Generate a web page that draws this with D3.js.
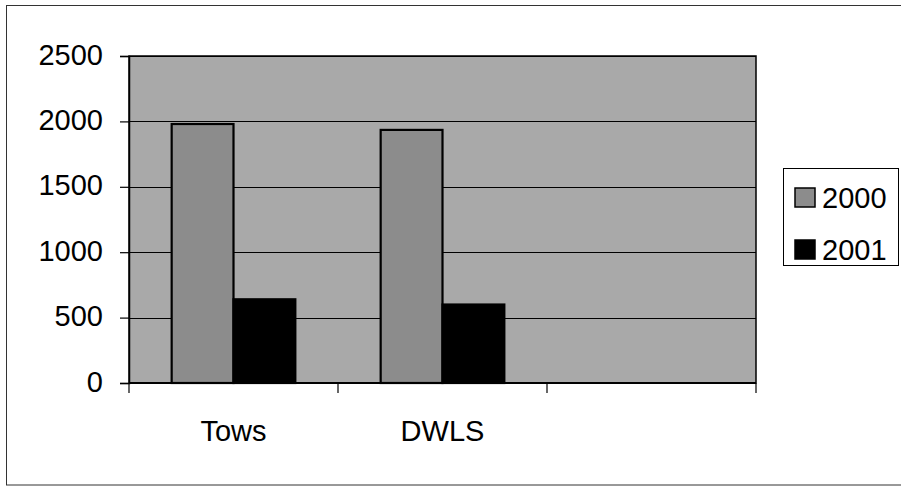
<!DOCTYPE html>
<html>
<head>
<meta charset="utf-8">
<script src="https://cdn.jsdelivr.net/npm/d3@7"></script>
<style>
  html, body { margin: 0; padding: 0; background: #fff; }
  svg { display: block; }
  text { font-family: "Liberation Sans", Arial, sans-serif; fill: #000; }
</style>
</head>
<body>
<svg id="chart" width="901" height="487"></svg>
<script>
// Chart data
const categories = ["Tows", "DWLS", ""];
const seriesNames = ["2000", "2001"];
const values2000 = [1980, 1935, null];
const values2001 = [640, 600, null];
const yTicks = [0, 500, 1000, 1500, 2000, 2500];

const seriesValues = { "2000": values2000, "2001": values2001 };
const seriesFill = { "2000": "#8c8c8c", "2001": "#000000" };

const svg = d3.select("#chart");

// Outer chart frame
svg.append("rect")
  .attr("x", 6.5).attr("y", 5.5)
  .attr("width", 900).attr("height", 479.5)
  .attr("fill", "#fff").attr("stroke", "#333").attr("stroke-width", 1);

const plot = { left: 129, right: 756, top: 56, bottom: 383 };

const y = d3.scaleLinear().domain([0, 2500]).range([plot.bottom, plot.top]);
const x0 = d3.scaleBand().domain(categories).range([plot.left, plot.right]).padding(0);
const x1 = d3.scaleBand().domain(seriesNames).range([0, x0.bandwidth()])
  .paddingInner(0).paddingOuter(0.69);

// Plot area background
svg.append("rect")
  .attr("x", plot.left).attr("y", plot.top)
  .attr("width", plot.right - plot.left).attr("height", plot.bottom - plot.top)
  .attr("fill", "#a9a9a9");

// Horizontal gridlines
svg.append("g").selectAll("line")
  .data(yTicks.filter(t => t > 0))
  .join("line")
  .attr("x1", plot.left).attr("x2", plot.right)
  .attr("y1", d => Math.round(y(d)) + 0.5).attr("y2", d => Math.round(y(d)) + 0.5)
  .attr("stroke", "#000").attr("stroke-width", 1.2);

// Plot area border
svg.append("rect")
  .attr("x", plot.left).attr("y", plot.top)
  .attr("width", plot.right - plot.left).attr("height", plot.bottom - plot.top)
  .attr("fill", "none").attr("stroke", "#000").attr("stroke-width", 1.5);

// Bars
const groups = svg.append("g").selectAll("g")
  .data(categories)
  .join("g")
  .attr("transform", c => `translate(${x0(c)},0)`);

groups.selectAll("rect")
  .data((c, i) => seriesNames
    .map(s => ({ s, v: seriesValues[s][i] }))
    .filter(d => d.v != null))
  .join("rect")
  .attr("x", d => x1(d.s))
  .attr("y", d => y(d.v))
  .attr("width", x1.bandwidth())
  .attr("height", d => y(0) - y(d.v))
  .attr("fill", d => seriesFill[d.s])
  .attr("stroke", "#000")
  .attr("stroke-width", 2.2);

// Y axis
const yAxis = d3.axisLeft(y).tickValues(yTicks).tickSize(9).tickPadding(17).tickFormat(d3.format("d"));
const gy = svg.append("g").attr("transform", `translate(${plot.left},0)`).call(yAxis);
gy.select(".domain").attr("stroke", "#000").attr("stroke-width", 1.5);
gy.selectAll(".tick line").attr("stroke", "#000").attr("stroke-width", 1.2);
gy.selectAll(".tick text")
  .attr("font-size", 29).attr("font-family", "Liberation Sans, Arial, sans-serif")
  .attr("fill", "#000").attr("dy", "0.28em");

// X axis
const xTickPos = categories.map(c => x0(c)).concat([plot.right]);
const gx = svg.append("g");
gx.append("line")
  .attr("x1", plot.left).attr("x2", plot.right)
  .attr("y1", plot.bottom).attr("y2", plot.bottom)
  .attr("stroke", "#000").attr("stroke-width", 2);
gx.selectAll("line.tick")
  .data(xTickPos)
  .join("line")
  .attr("class", "tick")
  .attr("x1", d => d).attr("x2", d => d)
  .attr("y1", plot.bottom).attr("y2", plot.bottom + 10)
  .attr("stroke", "#000").attr("stroke-width", 1.2);
gx.selectAll("text")
  .data(categories.filter(c => c !== ""))
  .join("text")
  .attr("x", c => x0(c) + x0.bandwidth() / 2)
  .attr("y", 441)
  .attr("text-anchor", "middle")
  .attr("font-size", 29)
  .text(c => c);

// Legend
const legend = svg.append("g");
legend.append("rect")
  .attr("x", 783.5).attr("y", 168.5).attr("width", 115).attr("height", 97)
  .attr("fill", "#fff").attr("stroke", "#000").attr("stroke-width", 1);
const li = legend.selectAll("g.item")
  .data(seriesNames)
  .join("g")
  .attr("class", "item")
  .attr("transform", (d, i) => `translate(0,${i * 52})`);
li.append("rect")
  .attr("x", 795).attr("y", 188).attr("width", 20).attr("height", 19)
  .attr("fill", d => seriesFill[d]).attr("stroke", "#000").attr("stroke-width", 1.5);
li.append("text")
  .attr("x", 822).attr("y", 208)
  .attr("font-size", 29)
  .text(d => d);
</script>
</body>
</html>
